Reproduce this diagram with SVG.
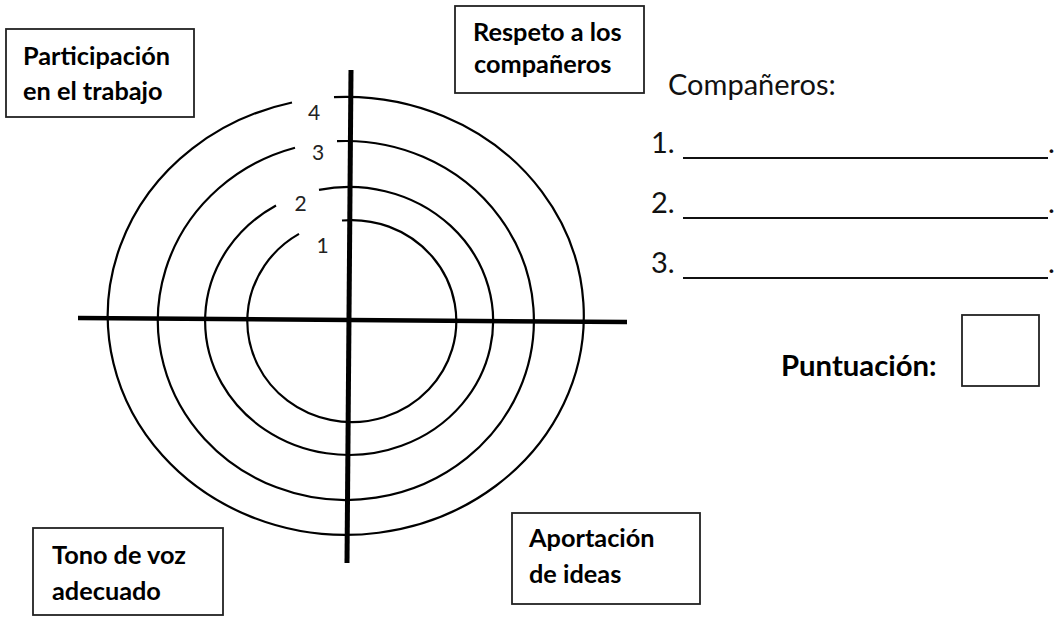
<svg xmlns="http://www.w3.org/2000/svg" width="1057" height="619" viewBox="0 0 1057 619">
<style>
.box{fill:#fff;stroke:#222;stroke-width:1.8}
.bt{font-family:Lato,"Open Sans",sans-serif;font-weight:700;font-size:25.3px;fill:#000}
.big{font-size:29.3px}
.ring{fill:none;stroke:#000;stroke-width:2.2}
.axis{stroke:#000;stroke-linecap:butt}
.num{font-family:Lato,"Open Sans",sans-serif;font-size:21px;fill:#222;text-anchor:middle}
.rt{font-family:Lato,"Open Sans",sans-serif;font-size:29px;fill:#111}
.ul{stroke:#111;stroke-width:1.8}
</style>
<rect width="1057" height="619" fill="#fff"/>
<g id="target">
<path class="ring" d="M 334 97.1 A 238 219 0 1 1 292 102.5"/>
<path class="ring" d="M 337 141.2 A 188 179.5 0 1 1 295 147.7"/>
<path class="ring" d="M 319 189.9 A 144 134 0 1 1 276 205.5"/>
<path class="ring" d="M 342 220.5 A 104.5 101 0 1 1 299 233.9"/>
<text class="num" x="314" y="120">4</text>
<text class="num" x="318" y="160">3</text>
<text class="num" x="300.5" y="211">2</text>
<text class="num" x="322.5" y="253">1</text>
</g>
<g id="connectors">
<line class="axis" x1="78" y1="318" x2="627" y2="322" stroke-width="4.5"/>
<line class="axis" x1="351" y1="70" x2="347" y2="563" stroke-width="5"/>
</g>
<g id="participacion">
<rect class="box" x="6" y="29" width="188" height="88"/>
<text class="bt" x="23" y="65">Participación</text>
<text class="bt" x="23" y="100">en el trabajo</text>
</g>
<g id="respeto">
<rect class="box" x="455" y="6" width="189" height="87"/>
<text class="bt" x="473" y="41">Respeto a los</text>
<text class="bt" x="474" y="73">compañeros</text>
</g>
<g id="tono">
<rect class="box" x="33" y="528" width="190" height="87"/>
<text class="bt" x="52" y="564">Tono de voz</text>
<text class="bt" x="52" y="600">adecuado</text>
</g>
<g id="aportacion">
<rect class="box" x="512" y="513" width="188" height="91"/>
<text class="bt" x="529" y="547">Aportación</text>
<text class="bt" x="529" y="583">de ideas</text>
</g>
<g id="companeros">
<text class="rt" x="668" y="95">Compañeros:</text>
<text class="rt" x="651" y="153">1.</text>
<line class="ul" x1="683" y1="158" x2="1048" y2="158"/>
<text class="rt" x="1048" y="153">.</text>
<text class="rt" x="651" y="213">2.</text>
<line class="ul" x1="683" y1="218" x2="1048" y2="218"/>
<text class="rt" x="1048" y="213">.</text>
<text class="rt" x="651" y="273">3.</text>
<line class="ul" x1="683" y1="278" x2="1048" y2="278"/>
<text class="rt" x="1048" y="273">.</text>
</g>
<g id="puntuacion">
<text class="bt big" x="781" y="376">Puntuación:</text>
<rect class="box" x="962" y="315" width="77" height="71"/>
</g>
</svg>
